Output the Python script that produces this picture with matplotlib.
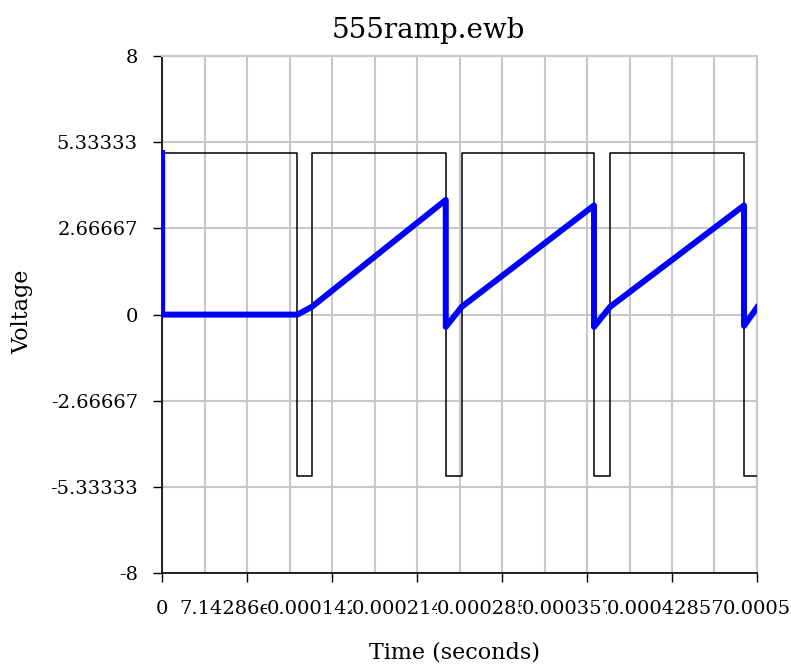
import numpy as np
import matplotlib
matplotlib.use("Agg")
import matplotlib.pyplot as plt
from matplotlib.ticker import FixedLocator, FixedFormatter, MultipleLocator

plt.rcParams["font.family"] = ["DejaVu Serif"]

# 555 timer output (square) and capacitor ramp
square_t = [0, 1.137e-4, 1.137e-4, 1.258e-4, 1.258e-4, 2.384e-4, 2.384e-4, 2.518e-4,
            2.518e-4, 3.630e-4, 3.630e-4, 3.765e-4, 3.765e-4, 4.891e-4, 4.891e-4, 5.0e-4]
square_v = [5, 5, -5, -5, 5, 5, -5, -5, 5, 5, -5, -5, 5, 5, -5, -5]

ramp_t = [0, 0, 1.137e-4, 1.258e-4, 2.384e-4, 2.384e-4, 2.518e-4, 3.630e-4,
          3.630e-4, 3.765e-4, 4.891e-4, 4.891e-4, 5.0e-4]
ramp_v = [5.0, 0, 0, 0.24, 3.55, -0.38, 0.24, 3.38, -0.38, 0.24, 3.38, -0.35, 0.22]

x_ticks = [i * 0.0005 / 7 for i in range(8)]
x_labels = ["0", "7.14286e-005", "0.000142857", "0.000214286", "0.000285714",
            "0.000357143", "0.000428571", "0.0005"]
y_ticks = [-8, -16 / 3, -8 / 3, 0, 8 / 3, 16 / 3, 8]
y_labels = ["-8", "-5.33333", "-2.66667", "0", "2.66667", "5.33333", "8"]

GRID = "#c8c8c8"

fig = plt.figure(figsize=(7.91, 6.69), dpi=100)
ax = fig.add_axes([0.205, 0.1435, 0.752, 0.7725])

ax.plot(square_t, square_v, color="black", lw=1.1, zorder=3)
ax.plot(ramp_t, ramp_v, color="#0000ff", lw=4.3, zorder=4)

ax.set_xlim(0, 0.0005)
ax.set_ylim(-8, 8)

ax.xaxis.set_major_locator(FixedLocator(x_ticks))
ax.xaxis.set_major_formatter(FixedFormatter(x_labels))
ax.xaxis.set_minor_locator(MultipleLocator(0.0005 / 14))
ax.yaxis.set_major_locator(FixedLocator(y_ticks))
ax.yaxis.set_major_formatter(FixedFormatter(y_labels))

ax.grid(True, which="major", color=GRID, lw=1.5)
ax.grid(True, which="minor", axis="x", color=GRID, lw=1.5)
ax.set_axisbelow(True)

ax.tick_params(axis="both", which="major", direction="out", length=6.5, width=1,
               labelsize=14, colors="black")
ax.tick_params(axis="x", which="major", pad=13)
ax.tick_params(axis="y", which="major", pad=11)
ax.tick_params(axis="x", which="minor", length=0)

for lbl in ax.get_xticklabels():
    lbl.set_bbox(dict(facecolor="white", edgecolor="none", pad=0))

for side in ("top", "right"):
    ax.spines[side].set_color(GRID)
    ax.spines[side].set_linewidth(1.5)
for side in ("left", "bottom"):
    ax.spines[side].set_color("black")
    ax.spines[side].set_linewidth(1.2)

ax.set_xlabel("Time (seconds)", fontsize=16)
ax.xaxis.set_label_coords(0.492, -0.133)
ax.set_ylabel("Voltage", fontsize=16)
ax.yaxis.set_label_coords(-0.217, 0.505)

fig.text(0.541, 0.955, "555ramp.ewb", ha="center", va="center", fontsize=20)

fig.savefig("out.png", dpi=100)
